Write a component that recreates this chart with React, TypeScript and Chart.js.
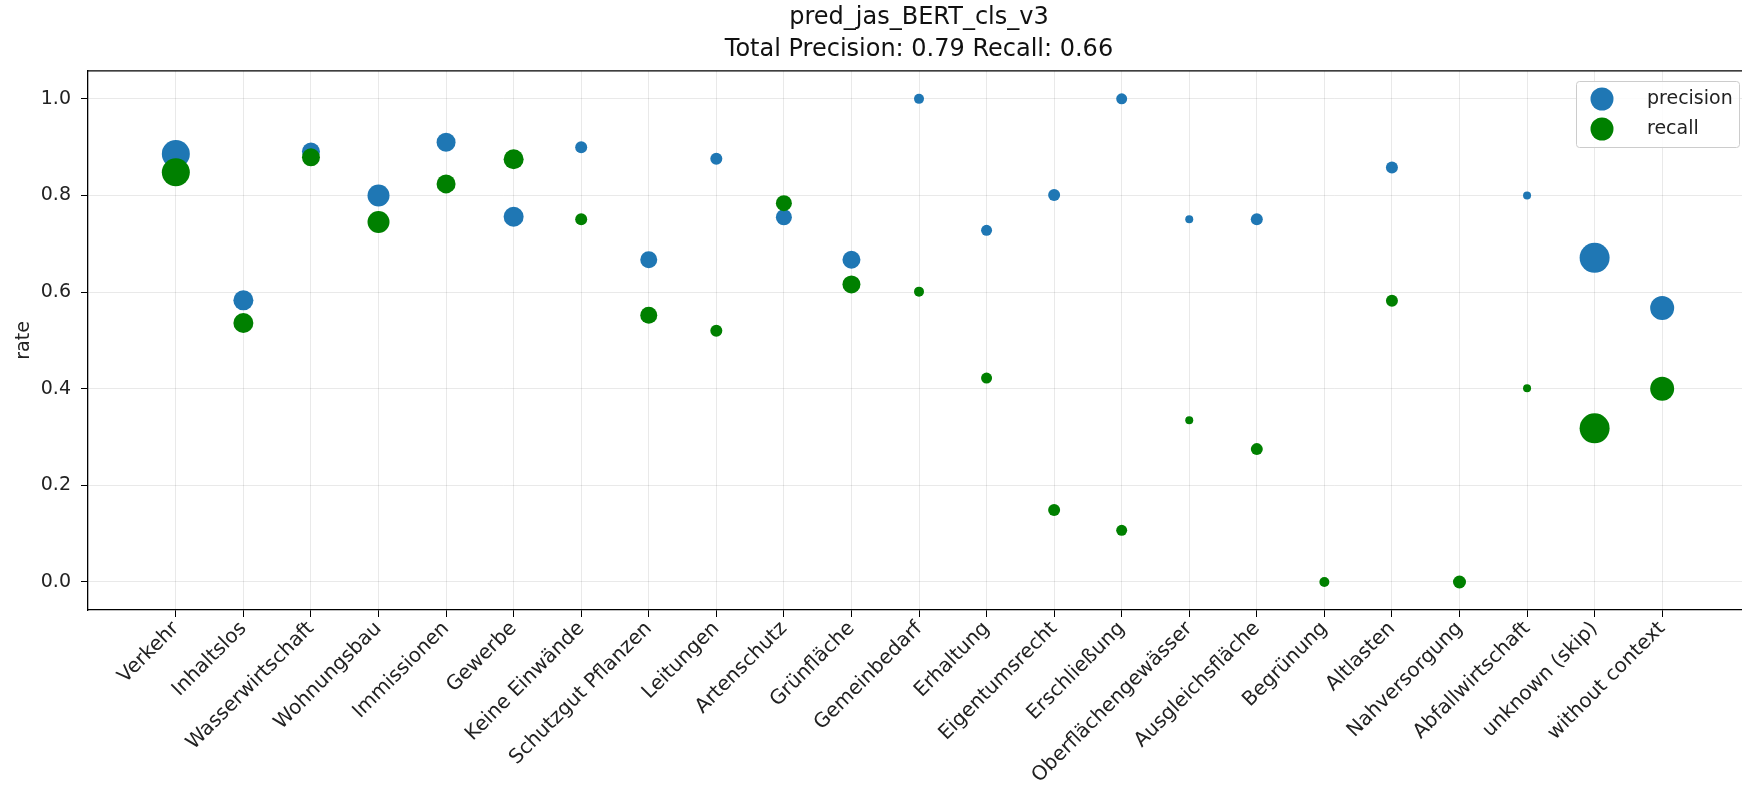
import { useEffect, useRef } from "react";
import { Chart, registerables } from "chart.js";

Chart.register(...registerables);

const categories = [
  "Verkehr", "Inhaltslos", "Wasserwirtschaft", "Wohnungsbau", "Immissionen", "Gewerbe",
  "Keine Einwände", "Schutzgut Pflanzen", "Leitungen", "Artenschutz", "Grünfläche",
  "Gemeinbedarf", "Erhaltung", "Eigentumsrecht", "Erschließung", "Oberflächengewässer",
  "Ausgleichsfläche", "Begrünung", "Altlasten", "Nahversorgung", "Abfallwirtschaft",
  "unknown (skip)", "without context",
];
const precision: (number | null)[] = [
  0.886, 0.583, 0.891, 0.8, 0.91, 0.756, 0.9, 0.667, 0.876, 0.755, 0.667, 1.0,
  0.728, 0.801, 1.0, 0.751, 0.751, null, 0.858, null, 0.8, 0.671, 0.567,
];
const recall: (number | null)[] = [
  0.848, 0.536, 0.879, 0.745, 0.824, 0.875, 0.751, 0.552, 0.52, 0.784, 0.616, 0.601,
  0.422, 0.149, 0.107, 0.335, 0.275, 0.0, 0.582, 0.0, 0.401, 0.318, 0.4,
];
// marker radius (px) per category, reflecting sample support
const markerRadius = [
  14, 10, 9, 11, 9.5, 10, 6, 8.5, 6, 8, 9, 5, 5.5, 6, 5.5, 4, 6, 5, 6, 6.5, 4, 15, 12,
];
const yTicks = [0, 0.2, 0.4, 0.6, 0.8, 1.0];
const titleLines = ["pred_jas_BERT_cls_v3", "Total Precision: 0.79 Recall: 0.66"];
const yAxisTitle = "rate";

const FONT = "'DejaVu Sans', sans-serif";
const BLUE = "#1f77b4";
const GREEN = "#008000";

export default function App() {
  const ref = useRef<HTMLCanvasElement>(null);

  useEffect(() => {
    if (!ref.current) return;

    const framePlugin = {
      id: "frame",
      afterDatasetsDraw(chart: any) {
        const { ctx, chartArea } = chart;
        ctx.save();
        ctx.strokeStyle = "#000";
        ctx.lineWidth = 1.3;
        ctx.beginPath();
        ctx.moveTo(chartArea.left, chartArea.top);
        ctx.lineTo(chartArea.right, chartArea.top);
        ctx.lineTo(chartArea.right, chartArea.bottom);
        ctx.stroke();
        ctx.restore();
      },
    };

    const legendPlugin = {
      id: "boxLegend",
      afterDraw(chart: any) {
        const { ctx } = chart;
        const x0 = 1576, y0 = 81, w = 163, h = 66;
        ctx.save();
        ctx.fillStyle = "rgba(255,255,255,0.85)";
        ctx.strokeStyle = "#cccccc";
        ctx.lineWidth = 1;
        ctx.beginPath();
        (ctx as any).roundRect(x0 + 0.5, y0 + 0.5, w, h, 3);
        ctx.fill();
        ctx.stroke();
        const ds = chart.data.datasets;
        ctx.font = `19px ${FONT}`;
        ctx.textBaseline = "middle";
        ctx.textAlign = "left";
        ds.forEach((d: any, i: number) => {
          const cy = y0 + 18 + i * 30;
          ctx.fillStyle = d.backgroundColor;
          ctx.beginPath();
          ctx.arc(x0 + 26, cy, 11.5, 0, Math.PI * 2);
          ctx.fill();
          ctx.fillStyle = "#222";
          ctx.fillText(d.label, x0 + 71, cy);
        });
        ctx.restore();
      },
    };

    const chart = new Chart(ref.current, {
      type: "scatter",
      data: {
        datasets: [
          {
            label: "precision",
            data: categories.map((_, i) => ({ x: i, y: precision[i] as any })),
            backgroundColor: BLUE,
            borderColor: BLUE,
            borderWidth: 0,
            pointRadius: (c: any) => markerRadius[c.dataIndex],
            order: 1,
          },
          {
            label: "recall",
            data: categories.map((_, i) => ({ x: i, y: recall[i] as any })),
            backgroundColor: GREEN,
            borderColor: GREEN,
            borderWidth: 0,
            pointRadius: (c: any) => markerRadius[c.dataIndex],
            order: 0,
          },
        ],
      },
      options: {
        responsive: false,
        animation: false,
        events: [],
        layout: { padding: 0, autoPadding: false },
        plugins: {
          legend: { display: false },
          tooltip: { enabled: false },
          title: {
            display: true,
            text: titleLines,
            fullSize: false,
            color: "#111",
            font: { family: FONT, size: 24, weight: "normal", lineHeight: 1.33 },
            padding: { top: 2, bottom: 5 },
          },
        },
        scales: {
          x: {
            type: "linear",
            min: -1.3,
            max: 23.3,
            afterBuildTicks: (scale: any) => {
              scale.ticks = categories.map((_, i) => ({ value: i }));
            },
            afterFit: (scale: any) => {
              scale.height = 179;
              scale.paddingLeft = 0;
              scale.paddingRight = 0;
            },
            ticks: {
              autoSkip: false,
              minRotation: 45,
              maxRotation: 45,
              color: "#222",
              padding: 0,
              font: { family: FONT, size: 20 },
              callback: (v: any) => categories[Math.round(Number(v))] ?? "",
            },
            grid: {
              color: "rgba(0,0,0,0.085)",
              tickColor: "#000",
              tickLength: 7,
              lineWidth: 1,
            },
            border: { display: true, color: "#000", width: 1.3 },
          },
          y: {
            min: -0.058,
            max: 1.058,
            afterBuildTicks: (scale: any) => {
              scale.ticks = yTicks.map((v) => ({ value: v }));
            },
            afterFit: (scale: any) => {
              scale.width = 88;
              scale.paddingTop = 0;
              scale.paddingBottom = 0;
            },
            ticks: {
              color: "#222",
              padding: 10,
              font: { family: FONT, size: 19 },
              callback: (v: any) => Number(v).toFixed(1),
            },
            grid: {
              color: "rgba(0,0,0,0.085)",
              tickColor: "#000",
              tickLength: 7,
              lineWidth: 1,
            },
            border: { display: true, color: "#000", width: 1.3 },
            title: {
              display: true,
              text: yAxisTitle,
              color: "#222",
              font: { family: FONT, size: 19 },
              padding: { top: 13, bottom: 0 },
            },
          },
        },
      },
      plugins: [framePlugin, legendPlugin],
    } as any);

    return () => chart.destroy();
  }, []);

  return (
    <div
      style={{
        position: "fixed",
        left: 0,
        top: 0,
        width: 1742,
        height: 789,
        overflow: "hidden",
        background: "#fff",
      }}
    >
      <canvas ref={ref} width={1750} height={789} style={{ width: 1750, height: 789, display: "block" }} />
    </div>
  );
}
